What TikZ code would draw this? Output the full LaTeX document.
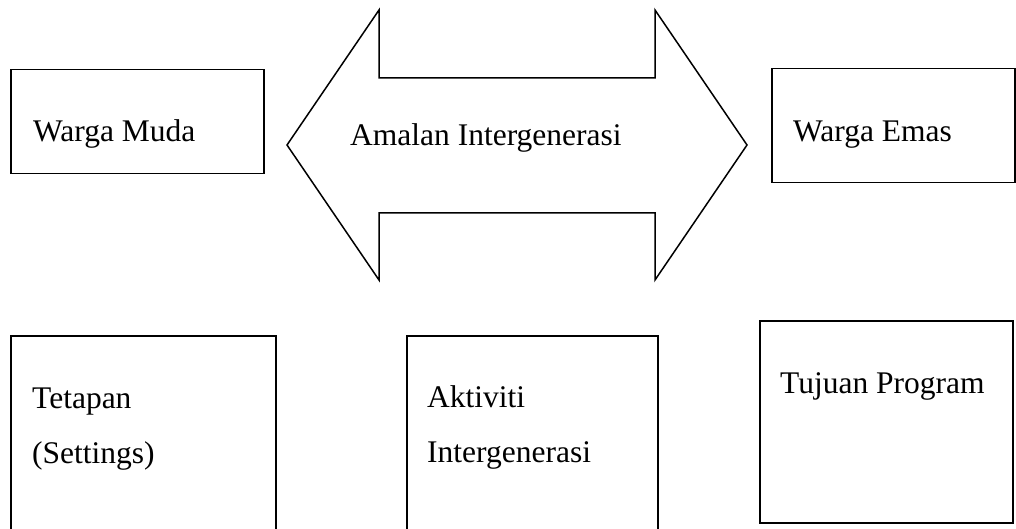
\documentclass[tikz,border=0pt]{standalone}
\usepackage{fontspec}
\setmainfont{Liberation Serif}
\usepackage{tikz}
\usetikzlibrary{positioning}

\tikzset{
	kotak/.style={draw, line width=1.5pt, inner sep=0pt, anchor=north west},
	teks/.style={font=\fontsize{31.5}{55}\selectfont, inner sep=0pt, anchor=base west}
}

\begin{document}
\begin{tikzpicture}[x=1pt, y=-1pt]
			\clip (0,0) rectangle (1016,529);
			% kotak atas
			\node[kotak, minimum width=253pt, minimum height=104pt] (muda) at (10,69) {};
			\node[kotak, minimum width=243pt, minimum height=114pt] (emas) at (771,68) {};
			\node[teks] (tmuda) at (33,142) {Warga Muda};
			\node[teks] (temas) at (793,142) {Warga Emas};
			% anak panah dua hala
			\draw[line width=1.5pt, line join=miter] (287,145) -- (379,10) -- (379,78) -- (655,78) -- (655,10)
				-- (747,145) -- (655,280) -- (655,213) -- (379,213) -- (379,280) -- cycle;
			\node[teks] (amalan) at (350,146) {Amalan Intergenerasi};
			% kotak bawah
			\node[kotak, minimum width=265pt, minimum height=210pt] (tetapan) at (10,335) {};
			\node[kotak, minimum width=251pt, minimum height=210pt] (aktiviti) at (406,335) {};
			\node[kotak, minimum width=253pt, minimum height=202pt] (tujuan) at (759,320) {};
			\node[teks] (tet1) at (32,408) {Tetapan};
			\node[teks] (tet2) at (32,463) {(Settings)};
			\node[teks] (akt1) at (427,407) {Aktiviti};
			\node[teks] (akt2) at (427,462) {Intergenerasi};
			\node[teks] (tuj) at (780,393) {Tujuan Program};
		\end{tikzpicture}
\end{document}
